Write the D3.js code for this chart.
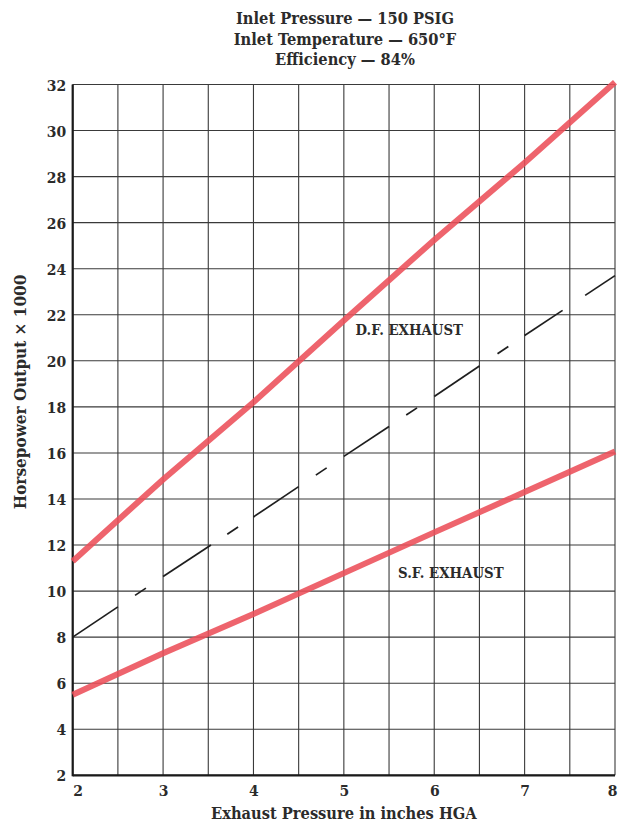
<!DOCTYPE html>
<html>
<head>
<meta charset="utf-8">
<script src="https://cdn.jsdelivr.net/npm/d3@7/dist/d3.min.js"></script>
<style>
  html, body { margin: 0; padding: 0; background: #fff; }
  svg { display: block; }
  text { font-family: "DejaVu Serif Condensed", "DejaVu Serif", serif; font-weight: bold; fill: #2b2b2b; }
</style>
</head>
<body>
<script>
// ---- data ----
const titleLines = ["Inlet Pressure \u2014 150 PSIG", "Inlet Temperature \u2014 650\u00B0F", "Efficiency \u2014 84%"];
const xLabel = "Exhaust Pressure in inches HGA";
const yLabel = "Horsepower Output \u00D7 1000";
const xTicks = [2, 3, 4, 5, 6, 7, 8];
const yTicks = [2, 4, 6, 8, 10, 12, 14, 16, 18, 20, 22, 24, 26, 28, 30, 32];
const xGrid = [2, 2.5, 3, 3.5, 4, 4.5, 5, 5.5, 6, 6.5, 7, 7.5, 8];
const pressure = [2, 3, 4, 5, 6, 7, 8];
const dfExhaust = [11.3, 14.85, 18.2, 21.75, 25.25, 28.6, 32.1];
const sfExhaust = [5.5, 7.3, 9.0, 10.78, 12.55, 14.3, 16.06];
const midLine = [8, 10.63, 13.22, 15.85, 18.45, 21.1, 23.7];
// dashed middle line: visible pieces, as exhaust-pressure intervals
const midDashes = [[2, 2.5], [2.69, 2.81], [3, 3.53], [3.71, 3.83], [4, 4.5], [4.69, 4.81],
                   [5, 5.5], [5.69, 5.81], [6, 6.5], [6.7, 6.82], [7, 7.42], [7.67, 8]];
const seriesLabels = [
  { text: "D.F. EXHAUST", x: 5.13, y: 21.35 },
  { text: "S.F. EXHAUST", x: 5.6, y: 10.8 }
];

// ---- layout ----
const W = 621, H = 822;
const margin = { left: 72.7, right: 6, top: 84.5, bottom: 46.7 };
const svg = d3.select("body").append("svg").attr("width", W).attr("height", H);

const x = d3.scaleLinear().domain([2, 8]).range([margin.left, W - margin.right]);
const y = d3.scaleLinear().domain([2, 32]).range([H - margin.bottom, margin.top]);

// grid
const g = svg.append("g");
g.selectAll("line.v").data(xGrid).join("line")
  .attr("x1", d => x(d)).attr("x2", d => x(d))
  .attr("y1", y(2)).attr("y2", y(32))
  .attr("stroke", "#3a3a3a").attr("stroke-width", 1.1);
g.selectAll("line.h").data(yTicks).join("line")
  .attr("x1", x(2)).attr("x2", x(8))
  .attr("y1", d => y(d)).attr("y2", d => y(d))
  .attr("stroke", "#3a3a3a").attr("stroke-width", 1.1);

// axes lines (heavier)
g.append("line").attr("x1", x(2)).attr("x2", x(2)).attr("y1", y(2) + 1).attr("y2", y(32))
  .attr("stroke", "#1a1a1a").attr("stroke-width", 2.2);
g.append("line").attr("x1", x(2)).attr("x2", x(8)).attr("y1", y(2)).attr("y2", y(2))
  .attr("stroke", "#1a1a1a").attr("stroke-width", 2.2);

// axes ticks labels via d3 axes
const yAxis = d3.axisLeft(y).tickValues(yTicks).tickSize(0).tickPadding(6).tickFormat(d3.format("d"));
const ya = svg.append("g").attr("transform", `translate(${x(2)},0)`).call(yAxis);
ya.select(".domain").remove();
ya.selectAll("text").style("font-size", "15.5px").attr("fill", "#2b2b2b")
  .attr("dy", "0.36em").attr("x", -6.5);

const xAxis = d3.axisBottom(x).tickValues(xTicks).tickSize(0).tickPadding(10).tickFormat(d3.format("d"));
const xa = svg.append("g").attr("transform", `translate(0,${y(2)})`).call(xAxis);
xa.select(".domain").remove();
xa.selectAll("text").style("font-size", "15.5px").attr("fill", "#2b2b2b")
  .attr("text-anchor", (d, i) => i === 0 ? "start" : (i === xTicks.length - 1 ? "end" : "middle"))
  .attr("dx", (d, i) => i === xTicks.length - 1 ? "2px" : 0);

// series lines
const lineGen = d3.line().x(d => x(d[0])).y(d => y(d[1]));
const redColor = "#ec4f59";
[dfExhaust, sfExhaust].forEach(vals => {
  svg.append("path").datum(pressure.map((p, i) => [p, vals[i]]))
    .attr("d", lineGen).attr("fill", "none")
    .attr("stroke", redColor).attr("stroke-width", 6).attr("stroke-opacity", 0.88)
    .attr("stroke-linecap", "butt");
});

// dashed middle line
const midInterp = d3.scaleLinear().domain(pressure).range(midLine);
svg.append("g").selectAll("path").data(midDashes).join("path")
  .attr("d", d => lineGen([[d[0], midInterp(d[0])], [d[1], midInterp(d[1])]]))
  .attr("fill", "none").attr("stroke", "#1e1e1e").attr("stroke-width", 1.7);

// series labels
svg.append("g").selectAll("text").data(seriesLabels).join("text")
  .attr("x", d => x(d.x)).attr("y", d => y(d.y)).attr("dy", "0.36em")
  .style("font-size", "14.8px").attr("fill", "#222")
  .text(d => d.text);

// title
svg.append("g").selectAll("text").data(titleLines).join("text")
  .attr("x", 345).attr("y", (d, i) => 24 + i * 20.5)
  .attr("text-anchor", "middle").style("font-size", "16.3px")
  .text(d => d);

// axis titles
svg.append("text").attr("x", (x(2) + x(8)) / 2).attr("y", 819)
  .attr("text-anchor", "middle").style("font-size", "16.3px").text(xLabel);
svg.append("text").attr("transform", "translate(26,392) rotate(-90)")
  .attr("text-anchor", "middle").style("font-size", "17px").text(yLabel);
</script>
</body>
</html>
